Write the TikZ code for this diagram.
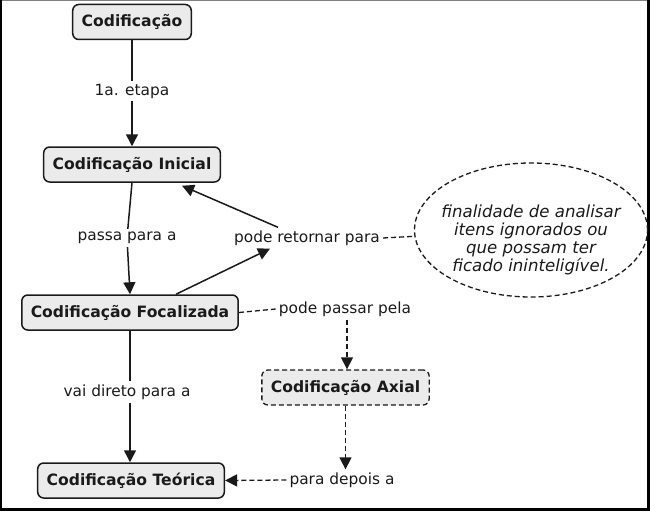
\documentclass[tikz,border=0pt]{standalone}
\usepackage{fontspec}
\setmainfont{DejaVu Sans}
\usetikzlibrary{shapes.geometric,arrows.meta,calc}
\definecolor{boxfill}{HTML}{EBEBEB}
\definecolor{ink}{HTML}{1A1A1A}
\tikzset{
  concept/.style={draw=ink, fill=boxfill, line width=1.5pt, rounded corners=6pt,
    minimum height=35pt, inner xsep=9pt, font=\fontsize{15.6}{18}\selectfont\bfseries, text=ink},
  lbl/.style={inner sep=3pt, font=\fontsize{15.4}{18}\selectfont, text=ink},
  link/.style={draw=ink, line width=1.5pt},
  dlink/.style={draw=ink, line width=1.3pt, dash pattern=on 5pt off 3pt},
  arr/.style={-{Triangle[length=12pt,width=12pt]}},
}
\begin{document}
\begin{tikzpicture}[x=1pt,y=-1pt]
\useasboundingbox (0,0) rectangle (650,511);
% frame
\draw[gray, line width=1.5pt] (0,0.75) -- (650,0.75);
\draw[black, line width=2pt] (1,0) -- (1,511);
\draw[black, line width=3pt] (648.5,0) -- (648.5,511);
\draw[black, line width=3pt] (0,509.5) -- (650,509.5);
% concepts
\node[concept] (cod) at (132,22) {Codificação};
\node[concept] (ini) at (132,164.5) {Codificação Inicial};
\node[concept] (foc) at (130,312.5) {Codificação Focalizada};
\node[concept, dlink, fill=boxfill] (axi) at (345.5,387.5) {Codificação Axial};
\node[concept] (teo) at (131,480.5) {Codificação Teórica};
\node[ellipse, dlink, minimum width=233pt, minimum height=134pt, inner sep=0pt] (ell) at (531,230) {};
\node[align=center, font=\fontsize{16.6}{18}\selectfont\itshape, text=ink] (ellt) at (531,240)
  {finalidade de analisar\\itens ignorados ou\\que possam ter\\ficado ininteligível.};
% link labels
\node[lbl] (l1) at (132,91) {1a. etapa};
\node[lbl] (l2) at (127,238) {passa para a};
\node[lbl] (l3) at (307,238) {pode retornar para};
\node[lbl] (l4) at (345,309) {pode passar pela};
\node[lbl] (l5) at (127,392) {vai direto para a};
\node[lbl] (l6) at (342,480) {para depois a};
% connectors
\draw[link] (cod) -- (l1);
\draw[link, arr] (l1) -- (ini);
\draw[link] (ini.south) -- (l2);
\draw[link, arr] (l2) -- (foc.north);
\draw[link, arr] ($(foc.north)+(46,0)$) -- ($(l3.south)+(-37,0)$);
\draw[link, arr] ($(l3.north)+(-29,0)$) -- ($(ini.south)+(50,3)$);
\draw[dlink] (l3.east) -- (ell);
\draw[dlink] (foc.east) -- (l4.west);
\draw[dlink, arr] ($(l4.south)+(2,0)$) -- ($(axi.north)+(1.5,0)$);
\draw[dlink, arr] (axi.south) -- (l6.north -| axi.south);
\draw[dlink, arr] (l6.west) -- (teo.east);
\draw[link] (foc.south) -- (l5.north -| foc.south);
\draw[link, arr] (l5.south -| foc.south) -- (teo.north -| foc.south);
\end{tikzpicture}
\end{document}
